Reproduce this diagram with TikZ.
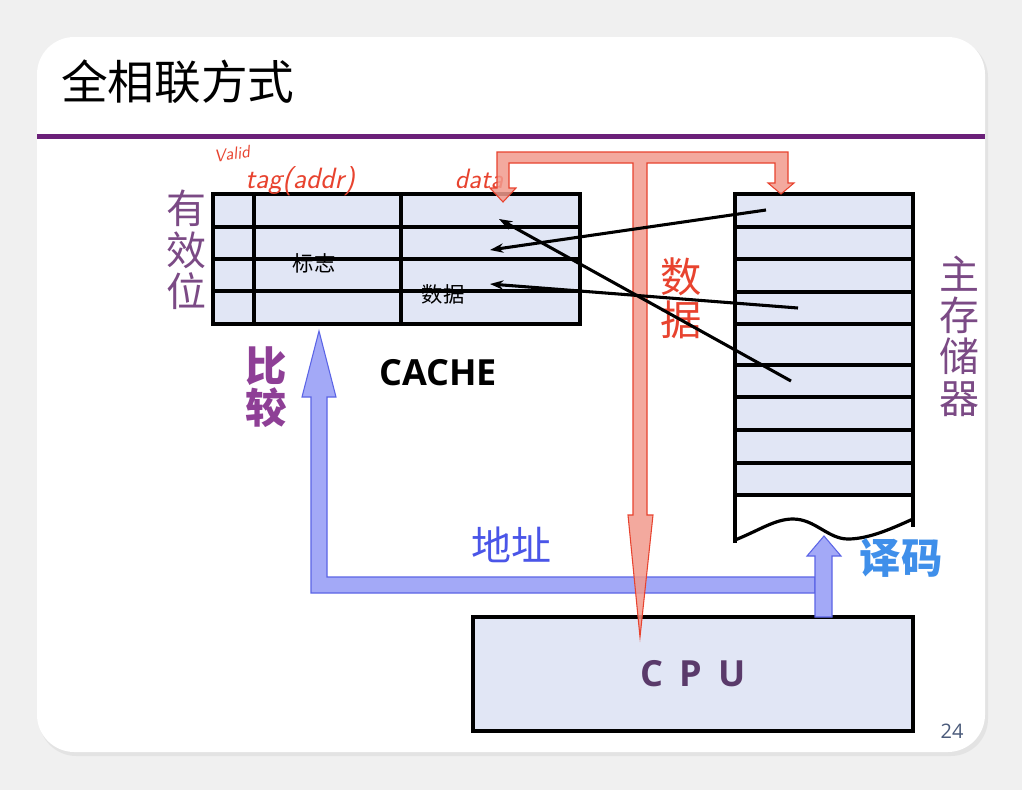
\documentclass[tikz,border=0pt]{standalone}
\usepackage{fontspec}
\usetikzlibrary{arrows.meta}
\newfontfamily\cjk{Noto Sans CJK SC}
\newfontfamily\latin{Open Sans}
\definecolor{cellfill}{HTML}{E1E6F5}
\definecolor{rulepurple}{HTML}{6B2079}
\definecolor{labpurple}{HTML}{7B4A85}
\definecolor{cmppurple}{HTML}{8E3F96}
\definecolor{busred}{HTML}{E8432F}
\definecolor{busredfill}{HTML}{F29A8E}
\definecolor{busblue}{HTML}{5B64E6}
\definecolor{busbluefill}{HTML}{A3A9F7}
\definecolor{addrblue}{HTML}{4A55E8}
\definecolor{decblue}{HTML}{3F8FEA}
\definecolor{cpuletter}{HTML}{5A3A6A}
\definecolor{pagenum}{HTML}{4A5A7A}
\tikzset{
  cell/.style={draw=black,line width=2.8pt,fill=cellfill},
  grid line/.style={line width=2.6pt},
  vlabel/.style={inner sep=0pt,align=center,font=\cjk\fontsize{30}{31}\selectfont},
  hand/.style={text=busred,inner sep=0pt,font=\sffamily\itshape},
}
\begin{document}
\begin{tikzpicture}[x=0.75pt,y=0.75pt,yscale=-1,xscale=1]
\useasboundingbox (0,0) rectangle (1022,790);
\fill[gray!12] (0,0) rectangle (1022,790);
\fill[gray!22] (39,40) [rounded corners=28pt] rectangle (988,756);
\fill[white] (37,37) [rounded corners=28pt] rectangle (985,752);

% title and rule
\node (title) [anchor=west,inner sep=0pt,font=\cjk\fontsize{35}{38}\selectfont] at (61,82) {全相联方式};
\fill[rulepurple] (37,134) rectangle (985,139);

% cache table
\draw[cell] (213,194) rectangle (580,324);
\foreach \y in {227,259,291} \draw[grid line] (213,\y) -- (580,\y);
\draw[grid line] (254,194) -- (254,324);
\draw[grid line] (401,194) -- (401,324);
\node (tag) [inner sep=0pt,font=\cjk\fontsize{16}{18}\selectfont] at (314,263) {标志};
\node (dat) [inner sep=0pt,font=\cjk\fontsize{16}{18}\selectfont] at (443,294) {数据};
\node (valid) [vlabel,text=labpurple] at (186,250) {有\\效\\位};
\node (cachename) [inner sep=0pt,font=\latin\bfseries\fontsize{27}{30}\selectfont] at (438,373) {CACHE};

% handwritten notes
\node (vnote) [hand,font=\sffamily\itshape\fontsize{13}{14}\selectfont,rotate=8] at (232,154) {Valid};
\node (tnote) [hand,font=\sffamily\itshape\fontsize{22}{24}\selectfont] at (300,181) {tag(addr)};
\node (dnote) [hand,font=\sffamily\itshape\fontsize{21}{24}\selectfont] at (479,179) {data};

% main memory
\fill[cellfill] (735,194) rectangle (913,495);
\foreach \y in {227,259,292,324,365,397,430,463,495} \draw[grid line] (735,\y) -- (913,\y);
\draw[line width=2.8pt] (735,543) -- (735,194) -- (913,194) -- (913,527);
\draw[line width=2.4pt] (735,540) .. controls (760,530) and (775,519) .. (793,519) .. controls (815,519) and (828,539) .. (848,539) .. controls (870,539) and (895,527) .. (913,519);
\node (mem) [vlabel,text=labpurple] at (959,336) {主\\存\\储\\器};

% cpu
\node (cpu) [cell,minimum width=440*0.75pt,minimum height=114*0.75pt,inner sep=0pt] at (693,674) {};
\node (cpulab) [inner sep=0pt,text=cpuletter,font=\latin\bfseries\fontsize{27}{30}\selectfont] at (cpu.center) {C\hspace{0.45em}P\hspace{0.45em}U};

% address bus
\draw[busblue,fill=busbluefill,line width=0.8pt] (311,593) -- (311,397) -- (302,397) -- (319,331) -- (336,397) -- (327,397) -- (327,577) -- (815,577) -- (815,593) -- cycle;
\draw[busblue,fill=busbluefill,line width=0.8pt] (815,617) -- (815,556) -- (807,556) -- (824,536) -- (841,556) -- (832,556) -- (832,617) -- cycle;
\node (addr) [inner sep=0pt,text=addrblue,font=\cjk\fontsize{30}{32}\selectfont] at (511,545) {地址};
\node (cmp) [vlabel,text=cmppurple,font=\cjk\bfseries\fontsize{31}{32}\selectfont] at (266,387) {比\\较};
\node (dec) [inner sep=0pt,text=decblue,font=\cjk\bfseries\fontsize{31}{33}\selectfont] at (901,558) {译码};

% data bus
\draw[busred,fill=busredfill,fill opacity=0.85,line width=0.8pt] (497,152) -- (788,152) -- (788,183) -- (794,183) -- (781,194) -- (768,183) -- (775,183) -- (775,163) -- (647,163) -- (647,515) -- (653,515) -- (640,637) -- (628,515) -- (633,515) -- (633,163) -- (509,163) -- (509,188) -- (516,188) -- (503,202) -- (490,188) -- (497,188) -- cycle;
\node (data) [vlabel,text=busred,font=\cjk\fontsize{31}{32}\selectfont] at (681,298) {数\\据};

% mapping arrows
\coordinate (m1) at (766,210);
\coordinate (m2) at (798,308);
\coordinate (m3) at (791,381);
\coordinate (c1) at (499,219);
\coordinate (c2) at (490,250);
\coordinate (c3) at (490,284);
\draw[line width=2.3pt,-{Stealth[length=10pt,width=7pt]}] (m1) -- (c2);
\draw[line width=2.3pt,-{Stealth[length=10pt,width=7pt]}] (m2) -- (c3);
\draw[line width=2.3pt,-{Stealth[length=10pt,width=7pt]}] (m3) -- (c1);

\node (page) [inner sep=0pt,text=pagenum,font=\latin\fontsize{15}{17}\selectfont] at (952,731) {24};
\end{tikzpicture}
\end{document}
